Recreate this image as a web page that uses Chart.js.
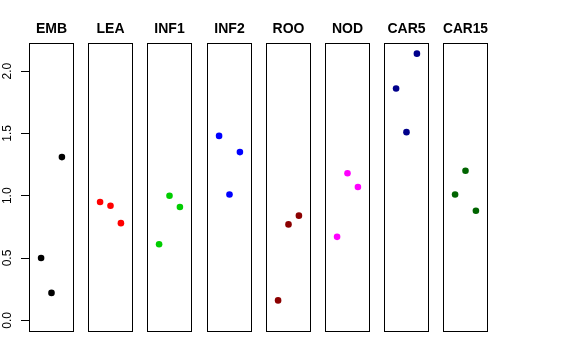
<!DOCTYPE html>
<html>
<head>
<meta charset="utf-8">
<script src="https://cdn.jsdelivr.net/npm/chart.js@4.4.1/dist/chart.umd.min.js"></script>
<style>
  html, body { margin: 0; padding: 0; background: #fff; }
  #wrap { position: relative; width: 576px; height: 360px; overflow: hidden; }
  #wrap canvas { position: absolute; top: 0; }
</style>
</head>
<body>
<div id="wrap"></div>
<script>
// panels, left to right
const groups = ["EMB", "LEA", "INF1", "INF2", "ROO", "NOD", "CAR5", "CAR15"];
const groupColors = ["#000000", "#FF0000", "#00CD00", "#0000FF", "#8B0000", "#FF00FF", "#00008B", "#006400"];

// three replicates per panel, at x = 1, 2, 3
const xPositions = [1, 2, 3];
const emb   = [0.50, 0.22, 1.31];
const lea   = [0.95, 0.92, 0.78];
const inf1  = [0.61, 1.00, 0.91];
const inf2  = [1.48, 1.01, 1.35];
const roo   = [0.16, 0.77, 0.84];
const nod   = [0.67, 1.18, 1.07];
const car5  = [1.86, 1.51, 2.14];
const car15 = [1.01, 1.20, 0.88];
const groupValues = [emb, lea, inf1, inf2, roo, nod, car5, car15];

const yTicks = [0, 0.5, 1, 1.5, 2];

// R-style 4% padding around xlim 0..4 and ylim 0..2.14
const xMin = -0.16, xMax = 4.16;
const yMin = -0.0856, yMax = 2.2256;

const font = "'Liberation Sans', Arial, Helvetica, sans-serif";
const panelLeft = 29, panelStep = 59.2, panelW = 45, side = 8, H = 360;

// box around each panel
const boxPlugin = {
  id: "box",
  afterDraw(chart) {
    const a = chart.chartArea, ctx = chart.ctx;
    ctx.save();
    ctx.strokeStyle = "#000";
    ctx.lineWidth = 1;
    ctx.strokeRect(a.left + 0.5, a.top + 0.5, a.right - a.left - 1, a.bottom - a.top);
    ctx.restore();
  }
};

const wrap = document.getElementById("wrap");

groups.forEach((g, i) => {
  const first = i === 0;
  const boxLeft = Math.round(panelLeft + i * panelStep);
  const left = first ? 0 : boxLeft - side;
  const width = first ? panelLeft + panelW + side : panelW + 2 * side;

  const cv = document.createElement("canvas");
  cv.width = width;
  cv.height = H;
  cv.style.left = left + "px";
  cv.style.width = width + "px";
  cv.style.height = H + "px";
  wrap.appendChild(cv);

  const yAxis = {
    type: "linear",
    min: yMin,
    max: yMax,
    display: first,
    position: "left"
  };
  if (first) {
    Object.assign(yAxis, {
      afterBuildTicks: s => { s.ticks = yTicks.map(v => ({ value: v })); },
      afterFit: s => { s.width = panelLeft; },
      border: { display: false },
      grid: { drawOnChartArea: false, drawTicks: true, tickLength: 8, color: "#000", lineWidth: 1 },
      ticks: {
        minRotation: 90,
        maxRotation: 90,
        crossAlign: "center",
        padding: 5,
        color: "#000",
        font: { family: font, size: 12 },
        callback: v => v.toFixed(1)
      }
    });
  }

  new Chart(cv, {
    type: "scatter",
    data: {
      datasets: [{
        data: xPositions.map((x, k) => ({ x, y: groupValues[i][k] })),
        backgroundColor: groupColors[i],
        borderColor: groupColors[i],
        borderWidth: 0,
        pointRadius: 3.3,
        pointHoverRadius: 3.3
      }]
    },
    options: {
      responsive: false,
      animation: false,
      events: [],
      layout: { padding: { top: 0, bottom: 29, left: first ? 0 : side, right: side } },
      scales: {
        x: { type: "linear", min: xMin, max: xMax, display: false },
        y: yAxis
      },
      plugins: {
        legend: { display: false },
        tooltip: { enabled: false },
        title: {
          display: true,
          fullSize: false,
          text: g,
          color: "#000",
          font: { family: font, size: 14, weight: "bold" },
          padding: { top: 21, bottom: 5.2 }
        }
      }
    },
    plugins: [boxPlugin]
  });
});
</script>
</body>
</html>
